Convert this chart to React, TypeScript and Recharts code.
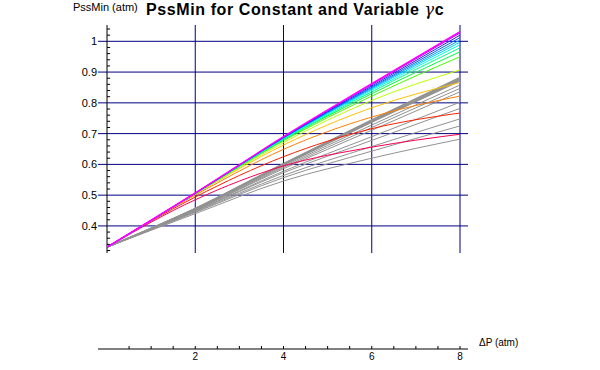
import { Line, LineChart, ReferenceLine, XAxis, YAxis } from "recharts";

const xPoints = [0, 2, 4, 6, 8];

// variable γc, rainbow curves (top to bottom at ΔP = 8)
const variableCurves = [
  [0.331, 0.507, 0.69, 0.862, 1.031],
  [0.331, 0.507, 0.689, 0.859, 1.027],
  [0.331, 0.506, 0.688, 0.855, 1.02],
  [0.331, 0.506, 0.687, 0.851, 1.012],
  [0.331, 0.506, 0.686, 0.848, 1.004],
  [0.331, 0.506, 0.685, 0.845, 0.997],
  [0.331, 0.505, 0.684, 0.841, 0.989],
  [0.331, 0.505, 0.682, 0.836, 0.979],
  [0.331, 0.505, 0.68, 0.83, 0.966],
  [0.331, 0.505, 0.677, 0.822, 0.95],
  [0.331, 0.504, 0.671, 0.808, 0.907],
  [0.331, 0.503, 0.663, 0.784, 0.866],
  [0.331, 0.5, 0.649, 0.754, 0.822],
  [0.331, 0.494, 0.625, 0.716, 0.767],
  [0.331, 0.485, 0.595, 0.656, 0.698],
];
const variableColors = [
  "#ff00ff", "#9a00ff", "#2020ff", "#0060ff", "#00a0ff", "#00d0ff", "#00ffe0", "#00ff90",
  "#00ff40", "#40ff00", "#c0ff00", "#ffc000", "#ff8000", "#ff2000", "#ff0050",
];

// constant γc, gray curves
const constantCurves = [
  [0.331, 0.457, 0.603, 0.745, 0.883],
  [0.331, 0.456, 0.602, 0.743, 0.88],
  [0.331, 0.456, 0.601, 0.741, 0.877],
  [0.331, 0.455, 0.6, 0.739, 0.874],
  [0.331, 0.455, 0.598, 0.737, 0.871],
  [0.331, 0.453, 0.594, 0.728, 0.858],
  [0.331, 0.452, 0.59, 0.72, 0.847],
  [0.331, 0.451, 0.586, 0.711, 0.836],
  [0.331, 0.449, 0.578, 0.69, 0.802],
  [0.331, 0.448, 0.573, 0.678, 0.782],
  [0.331, 0.446, 0.564, 0.658, 0.748],
  [0.331, 0.444, 0.557, 0.643, 0.725],
  [0.331, 0.44, 0.546, 0.62, 0.682],
];

const xTicks = [0.5, 1, 1.5, 2, 2.5, 3, 3.5, 4, 4.5, 5, 5.5, 6, 6.5, 7, 7.5, 8];
const xLabelTicks = [2, 4, 6, 8];
const yTicks = [0.4, 0.5, 0.6, 0.7, 0.8, 0.9, 1];
const yMinorTicks = [
  0.32, 0.34, 0.36, 0.38, 0.42, 0.44, 0.46, 0.48, 0.52, 0.54, 0.56, 0.58, 0.62, 0.64, 0.66, 0.68,
  0.72, 0.74, 0.76, 0.78, 0.82, 0.84, 0.86, 0.88, 0.92, 0.94, 0.96, 0.98, 1.02, 1.04,
];

const X_MIN = -0.204;
const X_MAX = 8.181;
const Y_MAX = 1.053;
const GRID_BOTTOM = 0.312;
const GRID = "#000080";
const FONT = "'Liberation Sans', Arial, sans-serif";

const rows = xPoints.map((x, i) => {
  const r: Record<string, number> = { x };
  variableCurves.forEach((c, j) => (r[`v${j}`] = c[i]));
  constantCurves.forEach((c, j) => (r[`c${j}`] = c[i]));
  return r;
});

function XTick({ x, y, payload }: any) {
  const v = payload.value;
  return (
    <g>
      <line x1={x} y1={y} x2={x} y2={y - 3} stroke="#000" />
      {xLabelTicks.includes(v) && (
        <text x={x} y={y + 11} textAnchor="middle" fontSize={10} fontFamily={FONT} fill="#000">
          {v}
        </text>
      )}
    </g>
  );
}

function YTick({ x, y, payload }: any) {
  return (
    <text x={x} y={y + 4} textAnchor="end" fontSize={11} fontFamily={FONT} fill="#000">
      {payload.value}
    </text>
  );
}

export default function App() {
  return (
    <div style={{ position: "fixed", left: 0, top: 0, width: 600, height: 370, background: "#fff" }}>
      <LineChart width={600} height={370} data={rows} margin={{ top: 25, right: 132, bottom: 0, left: 68 }}>
        <XAxis
          dataKey="x"
          type="number"
          domain={[X_MIN, X_MAX]}
          ticks={xTicks}
          allowDataOverflow
          height={21}
          tickSize={0}
          tickMargin={0}
          tickLine={false}
          axisLine={{ stroke: "#000" }}
          tick={<XTick />}
          interval={0}
        />
        <YAxis
          type="number"
          domain={[0, Y_MAX]}
          ticks={yTicks}
          allowDataOverflow
          width={30}
          tickSize={0}
          tickMargin={1}
          tickLine={false}
          axisLine={false}
          tick={<YTick />}
          interval={0}
        />
        {yTicks.map((v) => (
          <ReferenceLine key={`h${v}`} segment={[{ x: X_MIN, y: v }, { x: X_MAX, y: v }]} stroke={GRID} ifOverflow="visible" />
        ))}
        {xLabelTicks.map((v) => (
          <ReferenceLine key={`vg${v}`} segment={[{ x: v, y: GRID_BOTTOM }, { x: v, y: Y_MAX }]} stroke={GRID} ifOverflow="visible" />
        ))}
        <ReferenceLine segment={[{ x: 0, y: GRID_BOTTOM }, { x: 0, y: Y_MAX }]} stroke="#000" ifOverflow="visible" />
        {yMinorTicks.map((v) => (
          <ReferenceLine key={`m${v}`} segment={[{ x: 0, y: v }, { x: 0.07, y: v }]} stroke="#000" ifOverflow="visible" />
        ))}
        {constantCurves.map((_, j) => (
          <Line
            key={`c${j}`}
            dataKey={`c${j}`}
            type="monotone"
            stroke="#929292"
            strokeWidth={j < 5 ? 1.3 : 1}
            dot={false}
            isAnimationActive={false}
          />
        ))}
        {variableCurves
          .map((_, j) => j)
          .reverse()
          .map((j) => (
            <Line
              key={`v${j}`}
              dataKey={`v${j}`}
              type="monotone"
              stroke={variableColors[j]}
              strokeWidth={j === 0 ? 1.5 : 1}
              dot={false}
              isAnimationActive={false}
            />
          ))}
      </LineChart>
      <div style={{ position: "absolute", left: 73, top: 1, fontFamily: FONT, fontSize: 11, lineHeight: "13px", color: "#000" }}>
        PssMin (atm)
      </div>
      <div
        style={{
          position: "absolute",
          left: 146,
          top: 0,
          fontFamily: FONT,
          fontSize: 16,
          fontWeight: "bold",
          letterSpacing: 0.6,
          lineHeight: "19px",
          color: "#000",
          whiteSpace: "nowrap",
        }}
      >
        PssMin for Constant and Variable <i style={{ fontFamily: "'DejaVu Serif', serif", fontWeight: "normal" }}>γ</i>c
      </div>
      <div style={{ position: "absolute", left: 479, top: 337, fontFamily: FONT, fontSize: 10, lineHeight: "12px", color: "#000" }}>
        ΔP (atm)
      </div>
    </div>
  );
}
